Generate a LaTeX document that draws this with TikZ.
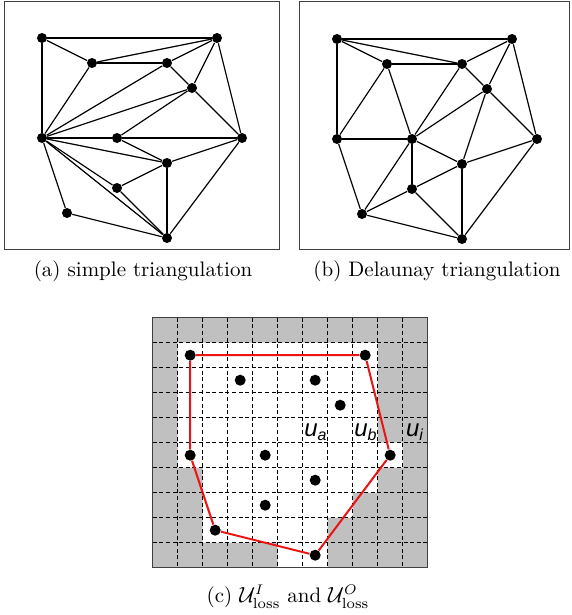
\documentclass[tikz,border=0pt]{standalone}
\usepackage{amsmath}
\usepackage{fontspec}
\usepackage{tikz}
\usetikzlibrary{positioning, calc}
\newfontfamily\labelfont{Liberation Sans}
\definecolor{cellGray}{RGB}{192,192,192}
\definecolor{hullRed}{RGB}{235,20,20}
\tikzset{
  triDot/.style={circle, fill=black, inner sep=0pt, minimum size=5pt},
  hullDot/.style={circle, fill=black, inner sep=0pt, minimum size=5.5pt},
  triEdge/.style={line width=0.6pt, draw=black},
  panelBox/.style={draw=black!75, line width=0.6pt},
  gridLine/.style={line width=0.45pt, dash pattern=on 2pt off 1.3pt},
  hullLine/.style={draw=hullRed, line width=1pt},
  subCap/.style={font=\fontsize{10.5}{12}\selectfont, inner sep=0pt},
  cellLabel/.style={font=\labelfont\itshape\fontsize{12}{14}\selectfont, inner sep=0pt},
}
% same point set in all three panels: index/column/row
\newcommand{\ptSet}{1/0/0, 2/7/0, 3/2/1, 4/5/1, 5/6/2, 6/0/4, 7/3/4, 8/8/4, 9/5/5, 10/3/6, 11/1/7, 12/5/8}

\begin{document}
\begin{tikzpicture}[x=0.5pt, y=-0.5pt]
\useasboundingbox (0,0) rectangle (572,615);

% (a) simple triangulation
\draw [panelBox] (4.5,1.5) rectangle (279.5,249.5);
\foreach \i/\u/\v in \ptSet
  \node (a\i) [triDot] at (42+25*\u, 38+25*\v) {};
\foreach \s/\t in {1/2, 1/3, 1/6, 3/2, 3/4, 4/2, 5/2, 4/5, 2/8, 3/6, 4/6, 5/6, 5/7, 5/8,
                   6/7, 7/8, 6/9, 7/9, 9/8, 6/10, 6/12, 10/9, 10/12, 9/12, 8/12, 6/11, 11/12}
  \draw [triEdge] (a\s) -- (a\t);
\node (capA) [subCap] at (143,271) {(a) simple triangulation};

% (b) Delaunay triangulation
\draw [panelBox] (299.5,1.5) rectangle (569.5,249.5);
\foreach \i/\u/\v in \ptSet
  \node (b\i) [triDot] at (337+25*\u, 39+25*\v) {};
\foreach \s/\t in {1/2, 1/3, 1/4, 1/6, 3/4, 4/2, 2/5, 2/8, 4/5, 3/6, 3/7, 4/7, 5/7, 5/9,
                   5/8, 6/7, 6/11, 7/9, 7/10, 7/11, 9/8, 10/9, 10/11, 10/12, 9/12, 8/12, 11/12}
  \draw [triEdge] (b\s) -- (b\t);
\node (capB) [subCap] at (437,271) {(b) Delaunay triangulation};

% (c) grid of cells, inner cells white
\begin{scope}[shift={(152.7,317.7)}]
  \fill [cellGray] (0,0) rectangle (275,250);
  \fill [white] (25,25) -- (225,25) -- (225,125) -- (250,125) -- (250,150) -- (225,150)
    -- (225,175) -- (200,175) -- (200,200) -- (175,200) -- (175,250) -- (125,250)
    -- (125,225) -- (50,225) -- (50,150) -- (25,150) -- cycle;
  \foreach \k in {1,...,10}
    \draw [gridLine] (25*\k,0) -- (25*\k,250);
  \foreach \k in {1,...,9}
    \draw [gridLine] (0,25*\k) -- (275,25*\k);
  \draw [panelBox] (0,0) rectangle (275,250);
\end{scope}
\foreach \i/\u/\v in \ptSet
  \node (c\i) [hullDot] at (190.2+25*\u, 355.2+25*\v) {};
\draw [hullLine] (c1) -- (c2) -- (c8) -- (c12) -- (c11) -- (c6) -- (c1);

\node (ua) [cellLabel] at (316,432) {u\textsubscript{a}};
\node (ub) [cellLabel] at (366,432) {u\textsubscript{b}};
\node (ui) [cellLabel] at (415,432) {u\textsubscript{i}};

\node (capC) [subCap] at (288,597) {(c) $\mathcal{U}^{I}_{\mathrm{loss}}$ and $\mathcal{U}^{O}_{\mathrm{loss}}$};
\end{tikzpicture}
\end{document}
